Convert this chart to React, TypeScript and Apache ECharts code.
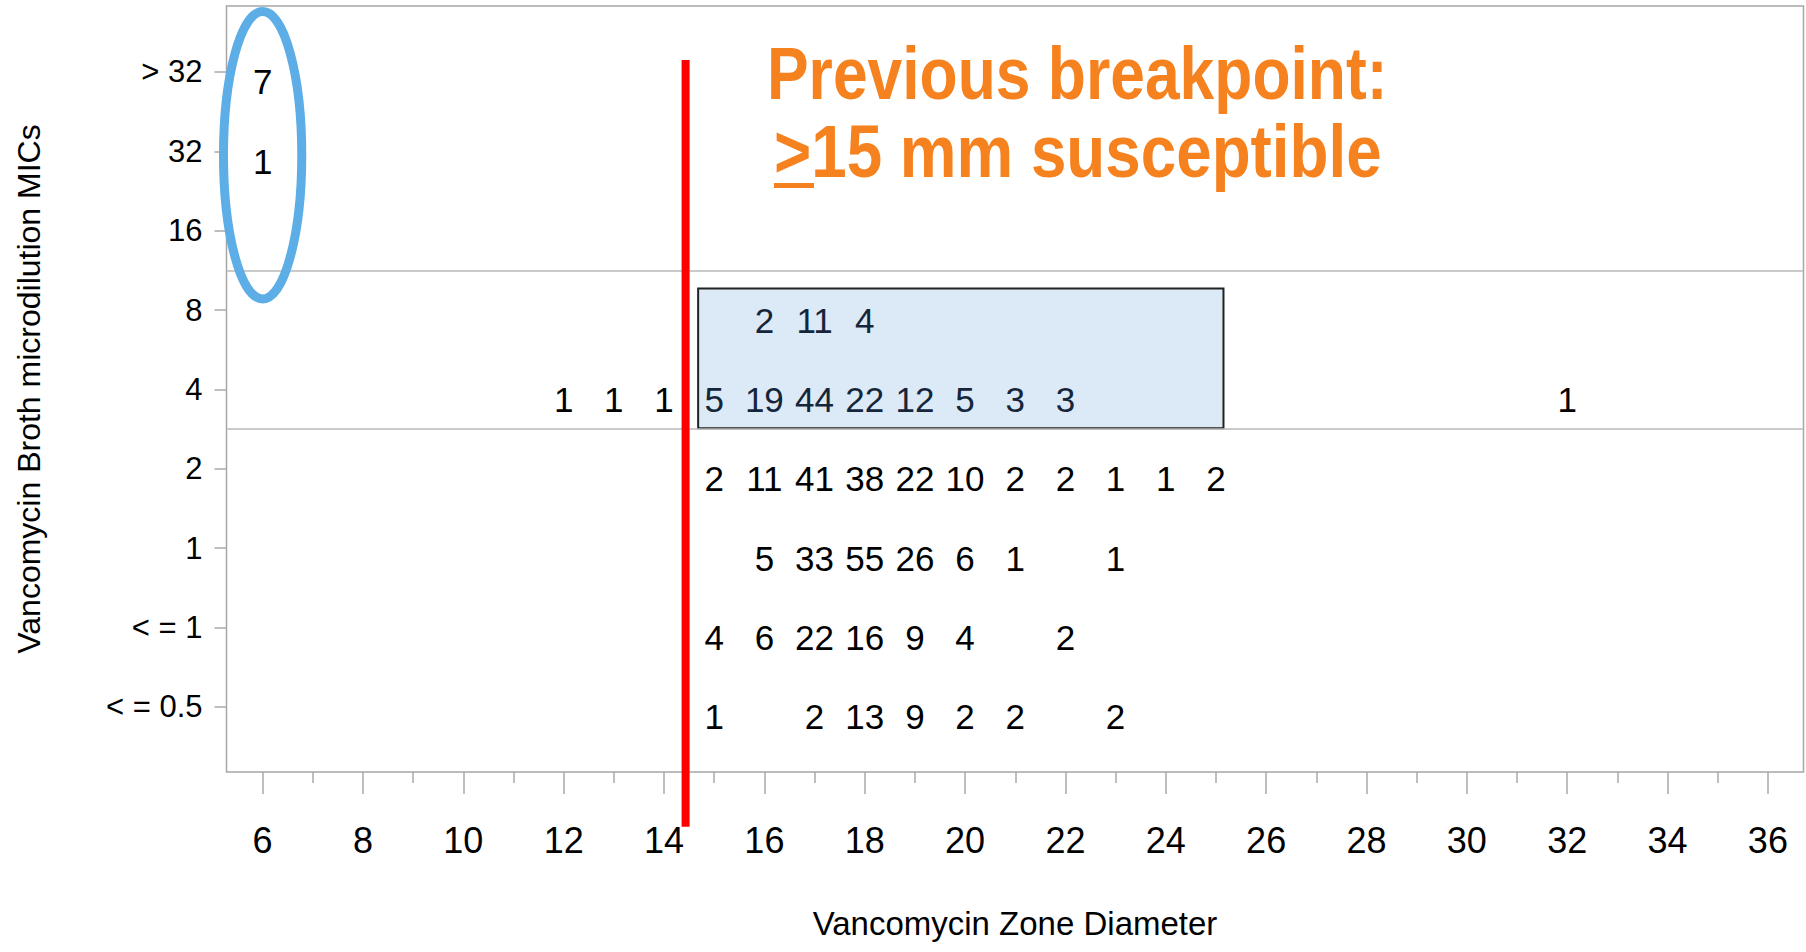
import React, { useEffect, useRef } from "react";
import * as echarts from "echarts";

// Y categories (bottom to top), displayed as in the reference
const micLabels = ["< = 0.5", "< = 1", "1", "2", "4", "8", "16", "32", "> 32"];

// X tick labels (even zone diameters) and minor ticks (odd)
const xMajorTicks = [6, 8, 10, 12, 14, 16, 18, 20, 22, 24, 26, 28, 30, 32, 34, 36];
const xMinorTicks = [7, 9, 11, 13, 15, 17, 19, 21, 23, 25, 27, 29, 31, 33, 35];

// counts per MIC row: [zone diameter, count]
const rowLe05 = [[15, 1], [17, 2], [18, 13], [19, 9], [20, 2], [21, 2], [23, 2]];
const rowLe1 = [[15, 4], [16, 6], [17, 22], [18, 16], [19, 9], [20, 4], [22, 2]];
const row1 = [[16, 5], [17, 33], [18, 55], [19, 26], [20, 6], [21, 1], [23, 1]];
const row2 = [[15, 2], [16, 11], [17, 41], [18, 38], [19, 22], [20, 10], [21, 2], [22, 2], [23, 1], [24, 1], [25, 2]];
const row4 = [[12, 1], [13, 1], [14, 1], [15, 5], [16, 19], [17, 44], [18, 22], [19, 12], [20, 5], [21, 3], [22, 3], [32, 1]];
const row8 = [[16, 2], [17, 11], [18, 4]];
const row16: number[][] = [];
const row32 = [[6, 1]];
const rowGt32 = [[6, 7]];

const rows = [rowLe05, rowLe1, row1, row2, row4, row8, row16, row32, rowGt32];

// annotation geometry (data units)
const xRange = [5.28, 36.71];
const yRange = [-0.82, 8.83];
const separators = [3.5, 5.5];
const boxX = [14.68, 25.15];
const boxY = [3.51, 5.27];
const breakpointX = 14.43;
const breakpointY = [8.15, -1.51];
const ellipseCenter = [6, 6.95];
const ellipseRadius = [0.78, 1.81];

const FONT = "Liberation Sans, Arial, Helvetica, sans-serif";

export default function App() {
  const ref = useRef<HTMLDivElement>(null);

  useEffect(() => {
    if (!ref.current) return;
    const chart = echarts.init(ref.current, null, { renderer: "svg" });

    const points: any[] = [];
    rows.forEach((row, yi) => {
      row.forEach(([x, c]) => {
        const inBox = x >= boxX[0] && x <= boxX[1] && yi >= boxY[0] && yi <= boxY[1];
        points.push({
          value: [x, yi, c],
          label: inBox ? { color: "#15253a" } : { color: "#000000" },
        });
      });
    });

    const tickStyle = { color: "#a8a8a8", width: 1.5 };

    chart.setOption({
      animation: false,
      backgroundColor: "#ffffff",
      grid: {
        left: 226.5,
        right: 2.5,
        top: 6,
        bottom: 180,
        show: true,
        borderColor: "#a6a6a6",
        borderWidth: 1.5,
        backgroundColor: "transparent",
      },
      xAxis: [
        {
          type: "value",
          min: xRange[0],
          max: xRange[1],
          position: "bottom",
          name: "Vancomycin Zone Diameter",
          nameLocation: "middle",
          nameGap: 135,
          nameTextStyle: { fontSize: 33, color: "#000", fontFamily: FONT },
          axisLine: { show: false, onZero: false },
          splitLine: { show: false },
          axisTick: { show: true, length: 22, lineStyle: tickStyle, customValues: xMajorTicks },
          axisLabel: {
            show: true,
            customValues: xMajorTicks,
            fontSize: 36,
            color: "#000",
            fontFamily: FONT,
            margin: 50,
          },
        },
        {
          type: "value",
          min: xRange[0],
          max: xRange[1],
          position: "bottom",
          axisLine: { show: false, onZero: false },
          splitLine: { show: false },
          axisTick: { show: true, length: 11, lineStyle: tickStyle, customValues: xMinorTicks },
          axisLabel: { show: false },
        },
      ],
      yAxis: {
        type: "value",
        min: yRange[0],
        max: yRange[1],
        name: "Vancomycin Broth microdilution MICs",
        nameLocation: "middle",
        nameGap: 182,
        nameTextStyle: { fontSize: 32, color: "#000", fontFamily: FONT },
        axisLine: { show: false, onZero: false },
        splitLine: { show: false },
        axisTick: { show: true, length: 12, lineStyle: tickStyle, customValues: [0, 1, 2, 3, 4, 5, 6, 7, 8] },
        axisLabel: {
          show: true,
          customValues: [0, 1, 2, 3, 4, 5, 6, 7, 8],
          formatter: (v: number) => micLabels[Math.round(v)] ?? "",
          fontSize: 31,
          color: "#000",
          fontFamily: FONT,
          margin: 24,
        },
      },
      series: [
        {
          type: "scatter",
          xAxisIndex: 0,
          symbolSize: 1,
          itemStyle: { color: "rgba(0,0,0,0)", opacity: 1 },
          data: points,
          label: {
            show: true,
            position: "inside",
            offset: [0, 10],
            fontSize: 35,
            color: "#000000",
            fontFamily: FONT,
            textBorderWidth: 0,
            textBorderColor: "transparent",
            formatter: (p: any) => String(p.value[2]),
          },
          markArea: {
            silent: true,
            itemStyle: { color: "#dbeaf6", borderColor: "#222222", borderWidth: 2, opacity: 1 },
            data: [[{ coord: [boxX[0], boxY[1]] }, { coord: [boxX[1], boxY[0]] }]],
          },
          markLine: {
            silent: true,
            symbol: ["none", "none"],
            label: { show: false },
            lineStyle: { color: "#b8b8b8", width: 1.5, type: "solid", opacity: 1 },
            data: separators.map((s) => ({ yAxis: s })),
          },
          z: 3,
        },
      ],
    });

    const px = (x: number, y: number) => chart.convertToPixel({ gridIndex: 0 }, [x, y]) as number[];
    const rTop = px(breakpointX, breakpointY[0]);
    const rBot = px(breakpointX, breakpointY[1]);
    const ec = px(ellipseCenter[0], ellipseCenter[1]);
    const ex = px(ellipseCenter[0] + ellipseRadius[0], ellipseCenter[1]);
    const ey = px(ellipseCenter[0], ellipseCenter[1] + ellipseRadius[1]);

    const noteStyle = {
      fill: "#f5821f",
      fontSize: 75,
      fontWeight: "bold",
      fontFamily: "Liberation Sans, Arial, sans-serif",
      textAlign: "left",
      textVerticalAlign: "middle",
    };

    chart.setOption({
      graphic: [
        {
          type: "line",
          z: 20,
          shape: { x1: rTop[0], y1: rTop[1], x2: rBot[0], y2: rBot[1] },
          style: { stroke: "#ff0000", lineWidth: 8 },
        },
        {
          type: "ellipse",
          z: 20,
          shape: { cx: ec[0], cy: ec[1], rx: ex[0] - ec[0], ry: ec[1] - ey[1] },
          style: { fill: "none", stroke: "#5dade6", lineWidth: 9 },
        },
        {
          type: "text",
          z: 20,
          x: 767,
          y: 73,
          scaleX: 0.832,
          style: { ...noteStyle, text: "Previous breakpoint:" },
        },
        {
          type: "text",
          z: 20,
          x: 774,
          y: 151,
          scaleX: 0.85,
          style: { ...noteStyle, text: ">15 mm susceptible" },
        },
        {
          type: "rect",
          z: 20,
          shape: { x: 774, y: 183, width: 40, height: 5 },
          style: { fill: "#f5821f" },
        },
      ],
    });

    return () => chart.dispose();
  }, []);

  return (
    <div
      ref={ref}
      style={{ position: "absolute", left: 0, top: 0, width: 1806, height: 952, background: "#fff" }}
    />
  );
}
